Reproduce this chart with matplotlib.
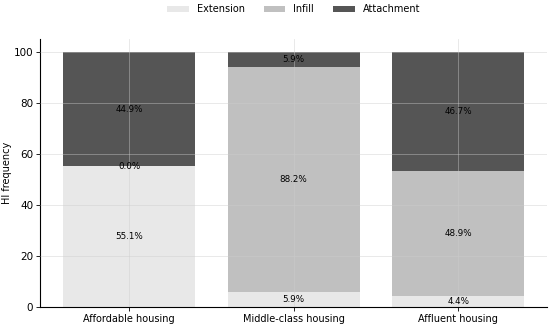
# stacked bar chart of HI types by housing class
import numpy as np
import matplotlib.pyplot as plt

categories = ['Affordable housing', 'Middle-class housing', 'Affluent housing']
extension = [55.1, 5.9, 4.4]
infill = [0.0, 88.2, 48.9]
attachment = [44.9, 5.9, 46.7]

series = [('Extension', extension, '#e8e8e8'),
          ('Infill', infill, '#c0c0c0'),
          ('Attachment', attachment, '#555555')]

fig, ax = plt.subplots(figsize=(5.5, 3.26), dpi=100)
x = np.arange(len(categories))
bottom = np.zeros(len(categories))
for name, vals, col in series:
    vals = np.array(vals)
    ax.bar(x, vals, 0.8, bottom=bottom, color=col, label=name)
    for xi, b, v in zip(x, bottom, vals):
        ax.text(xi, b + v / 2, '%.1f%%' % v, ha='center', va='center', fontsize=6.3)
    bottom += vals

ax.set_xticks(x)
ax.set_xticklabels(categories, fontsize=7)
ax.tick_params(axis='both', labelsize=7, length=3, width=0.6, pad=2)
ax.tick_params(axis='y', labelsize=7.5)
ax.set_ylabel('HI frequency', fontsize=7)
ax.yaxis.set_label_coords(-0.056, 0.5)
ax.set_ylim(0, 105)
ax.set_yticks([0, 20, 40, 60, 80, 100])
ax.spines['top'].set_visible(False)
ax.spines['right'].set_visible(False)
ax.set_axisbelow(False)
ax.grid(True, color='#cccccc', alpha=0.5, linestyle='-', linewidth=0.6)
ax.legend(loc='lower center', bbox_to_anchor=(0.5, 1.06), ncol=3, frameon=False,
          fontsize=7, handlelength=2.2, handleheight=0.6, columnspacing=2.0)

plt.subplots_adjust(left=0.073, right=0.995, top=0.88, bottom=0.058)
fig.savefig('out.png', dpi=100)
